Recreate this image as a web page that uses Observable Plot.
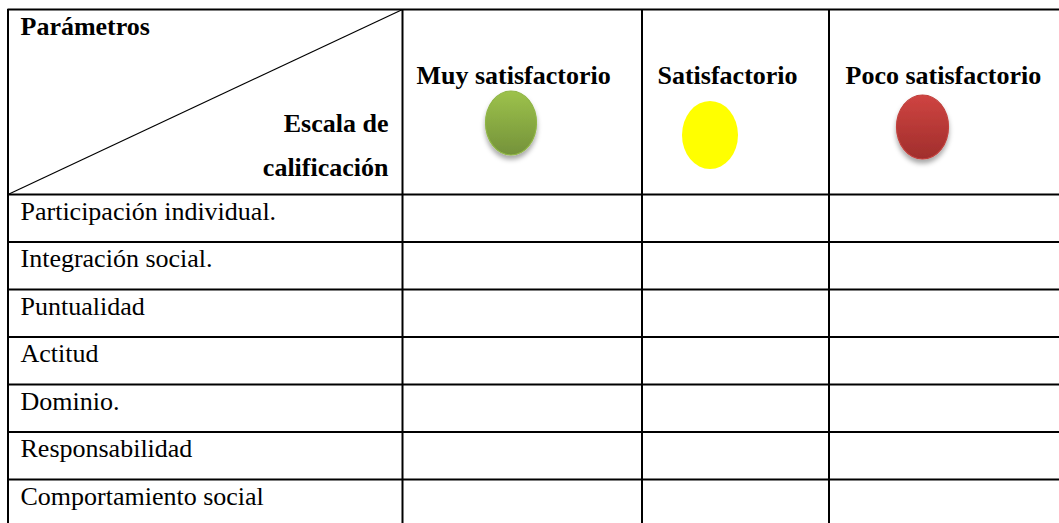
<!DOCTYPE html>
<html>
<head>
<meta charset="utf-8">
<script src="https://cdn.jsdelivr.net/npm/d3@7"></script>
<script src="https://cdn.jsdelivr.net/npm/@observablehq/plot@0.6"></script>
<style>
  html, body { margin: 0; padding: 0; background: #fff; }
  svg { display: block; }
</style>
</head>
<body>
<div id="chart"></div>
<script>
// ---- data ----
const parameters = [
  "Participación individual.",
  "Integración social.",
  "Puntualidad",
  "Actitud",
  "Dominio.",
  "Responsabilidad",
  "Comportamiento social"
];
const scaleLevels = ["Muy satisfactorio", "Satisfactorio", "Poco satisfactorio"];
const cornerTop = "Parámetros";
const cornerBottom = ["Escala de", "calificación"];

// ---- layout ----
const W = 1059, H = 523;
const tblLeft = 7.5, tblTop = 9, headerBottom = 194, rowH = 47.5;
const colEdges = [402, 641.5, 828.5];
const colCenters = [511, 710, 922.5];
const ellipseStyle = [
  {rx: 25.5, ry: 32, cy: 123, grad: "gGreen", shadow: true},
  {rx: 28, ry: 34, cy: 135, grad: null, fill: "#ffff00", shadow: false},
  {rx: 26, ry: 32, cy: 127, grad: "gRed", shadow: true}
];
const headerTextX = [416, 657, 845];
const FS = 26;

const rowTops = parameters.map((_, i) => headerBottom + i * rowH);
const hLines = [tblTop, headerBottom, ...parameters.slice(1).map((_, i) => headerBottom + (i + 1) * rowH)];

const rowData = parameters.map((p, i) => ({label: p, y: rowTops[i] + 17}));
const headData = scaleLevels.map((s, i) => ({label: s, x: headerTextX[i], y: 75}));
const ellData = scaleLevels.map((s, i) => ({label: s, x: colCenters[i], ...ellipseStyle[i]}));

function defs() {
  const g = d3.create("svg:g");
  const d = g.append("defs");
  const g1 = d.append("linearGradient").attr("id", "gGreen").attr("x1", 0).attr("y1", 0).attr("x2", 0).attr("y2", 1);
  g1.append("stop").attr("offset", "0%").attr("stop-color", "#9dc24b");
  g1.append("stop").attr("offset", "100%").attr("stop-color", "#74923a");
  const g2 = d.append("linearGradient").attr("id", "gRed").attr("x1", 0).attr("y1", 0).attr("x2", 0).attr("y2", 1);
  g2.append("stop").attr("offset", "0%").attr("stop-color", "#cf4441");
  g2.append("stop").attr("offset", "100%").attr("stop-color", "#a02e2c");
  const f = d.append("filter").attr("id", "shadow").attr("x", "-50%").attr("y", "-50%").attr("width", "200%").attr("height", "200%");
  f.append("feDropShadow").attr("dx", 0).attr("dy", 4).attr("stdDeviation", 2.5).attr("flood-color", "#000").attr("flood-opacity", 0.35);
  return g.node();
}

function ellipses(index, scales) {
  const g = d3.create("svg:g");
  for (const e of ellData) {
    const el = g.append("ellipse")
      .attr("cx", scales.x(e.x)).attr("cy", scales.y(e.cy))
      .attr("rx", e.rx).attr("ry", e.ry)
      .attr("fill", e.grad ? `url(#${e.grad})` : e.fill);
    if (e.grad) el.attr("stroke", e.grad === "gGreen" ? "#8fb545" : "#c0403c").attr("stroke-width", 1.2);
    if (e.shadow) el.attr("filter", "url(#shadow)");
  }
  return g.node();
}

const chart = Plot.plot({
  width: W, height: H, margin: 0,
  x: {type: "linear", domain: [0, W], range: [0, W], axis: null},
  y: {type: "linear", domain: [0, H], range: [0, H], axis: null},
  style: {fontFamily: "'Liberation Serif', 'Times New Roman', serif", background: "#fff"},
  marks: [
    defs,
    Plot.ruleY(hLines, {x1: tblLeft, x2: W, stroke: "#000", strokeWidth: 2}),
    Plot.ruleX([tblLeft, ...colEdges], {y1: tblTop, y2: H, stroke: "#000", strokeWidth: 2}),
    Plot.link([{x1: tblLeft, y1: headerBottom, x2: colEdges[0], y2: tblTop}], {x1: "x1", y1: "y1", x2: "x2", y2: "y2", stroke: "#000", strokeWidth: 1.2}),
    Plot.text([cornerTop], {x: 20, y: 26, text: d => d, textAnchor: "start", fontSize: FS, fontWeight: "bold", fill: "#000"}),
    Plot.text(cornerBottom, {x: 388, y: (d, i) => 123 + i * 44, text: d => d, textAnchor: "end", fontSize: FS, fontWeight: "bold", fill: "#000"}),
    Plot.text(headData, {x: "x", y: "y", text: "label", textAnchor: "start", fontSize: FS, fontWeight: "bold", fill: "#000"}),
    ellipses,
    Plot.text(rowData, {x: 20, y: "y", text: "label", textAnchor: "start", fontSize: FS, fill: "#000"})
  ]
});
document.getElementById("chart").append(chart);
</script>
</body>
</html>
